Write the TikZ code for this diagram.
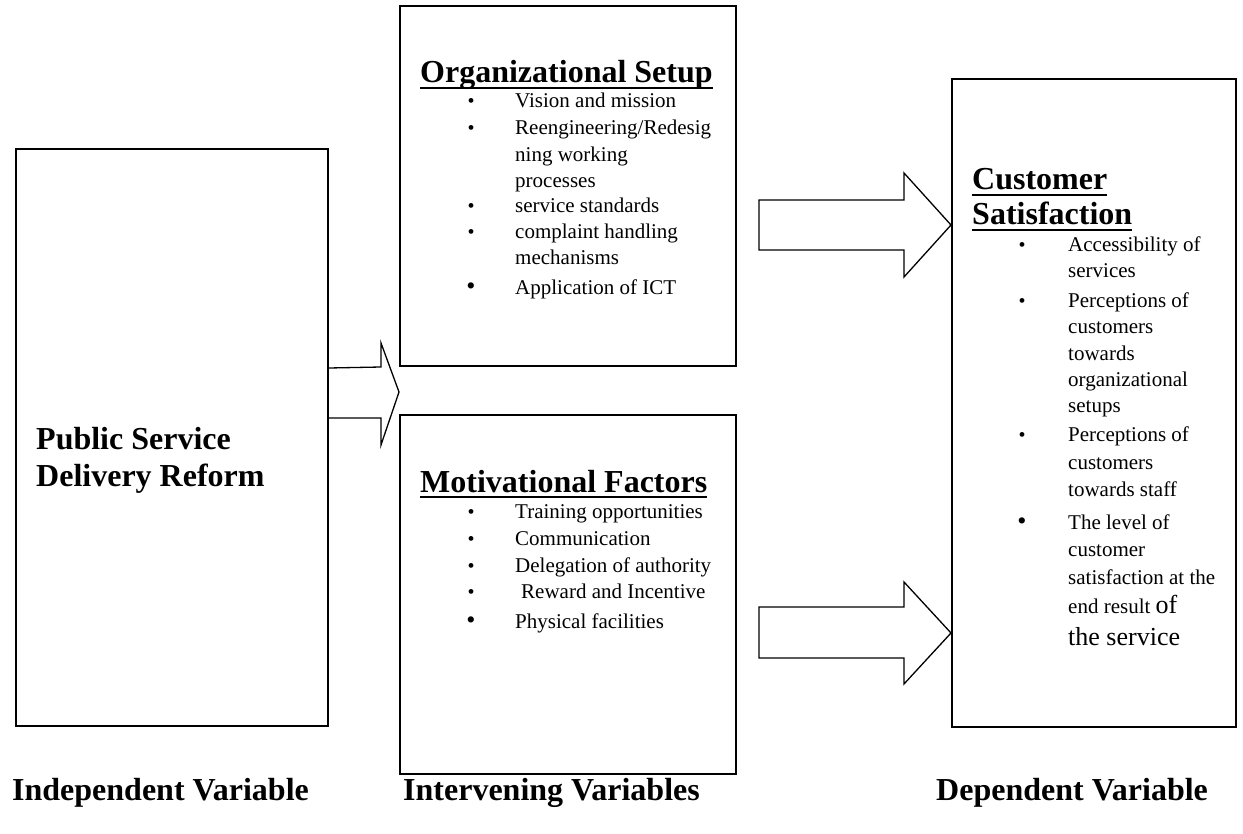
\documentclass[tikz,border=0pt]{standalone}
\usepackage{fontspec}
\setmainfont{Liberation Serif}
\usetikzlibrary{calc}
\tikzset{
  box/.style={draw, line width=2pt, inner sep=0pt, anchor=north west},
  hd/.style={font=\fontsize{32}{36}\selectfont\bfseries, inner sep=0pt, anchor=base west},
  itm/.style={font=\fontsize{21}{27}\selectfont, inner sep=0pt, anchor=base west},
  bul/.style={font=\fontsize{20}{20}\selectfont, inner sep=0pt, anchor=base},
  bigbul/.style={font=\fontsize{26}{26}\selectfont, inner sep=0pt, anchor=base},
  lbl/.style={font=\fontsize{32}{36}\selectfont\bfseries, inner sep=0pt, anchor=base west},
  barrow/.style={draw, line width=1.3pt, fill=white, line join=miter},
  uline/.style={line width=2.5pt},
}
\begin{document}
\begin{tikzpicture}[x=1pt,y=-1pt]
\useasboundingbox (0,0) rectangle (1243,834);
\fill[white] (0,0) rectangle (1243,834);

% boxes
\node[box, minimum width=312pt, minimum height=577pt] (ind) at (15,148) {};
\node[box, minimum width=336pt, minimum height=360pt] (org) at (399,5) {};
\node[box, minimum width=336pt, minimum height=359pt] (mot) at (399,414) {};
\node[box, minimum width=284pt, minimum height=648pt] (cus) at (951,78) {};

% left box text
\node[hd] (ps1) at (36,449) {Public Service};
\node[hd] (ps2) at (36,486) {Delivery Reform};

% arrow 1 (independent -> intervening)
\coordinate (a1s) at (ind.east |- 0,393);
\coordinate (a1t) at (399,392);
\draw[barrow] ($(a1s)+(0,-25)$) -- ($(a1t)+(-18,-25)$) -- ($(a1t)+(-18,-49)$) -- (a1t)
  -- ($(a1t)+(-18,53)$) -- ($(a1t)+(-18,26)$) -- ($(a1s)+(0,25)$);

% arrow 2 (organizational -> customer)
\coordinate (a2s) at (759,225);
\coordinate (a2t) at (cus.west |- 0,225);
\draw[barrow] ($(a2s)+(0,-25)$) -- ($(a2t)+(-47,-25)$) -- ($(a2t)+(-47,-52)$) -- (a2t)
  -- ($(a2t)+(-47,52)$) -- ($(a2t)+(-47,25)$) -- ($(a2s)+(0,25)$) -- cycle;

% arrow 3 (motivational -> customer)
\coordinate (a3s) at (759,633);
\coordinate (a3t) at (cus.west |- 0,633);
\draw[barrow] ($(a3s)+(0,-26)$) -- ($(a3t)+(-47,-26)$) -- ($(a3t)+(-47,-51)$) -- (a3t)
  -- ($(a3t)+(-47,51)$) -- ($(a3t)+(-47,25)$) -- ($(a3s)+(0,25)$) -- cycle;

% organizational setup
\node[hd] (oh) at (420,83) {Organizational Setup};
\draw[uline] ([yshift=-5pt]oh.base west) -- ([yshift=-5pt]oh.base east);
\node[bul] (ob1) at (471,108) {•};
\node[itm] (o1) at (515,108) {Vision and mission};
\node[bul] (ob2) at (471,135) {•};
\node[itm] (o2) at (515,135) {Reengineering/Redesig};
\node[itm] (o3) at (515,162) {ning working};
\node[itm] (o4) at (515,188) {processes};
\node[bul] (ob3) at (471,213) {•};
\node[itm] (o5) at (515,213) {service standards};
\node[bul] (ob4) at (471,239) {•};
\node[itm] (o6) at (515,239) {complaint handling};
\node[itm] (o7) at (515,265) {mechanisms};
\node[bigbul] (ob5) at (471,295) {•};
\node[itm] (o8) at (515,295) {Application of ICT};

% motivational factors
\node[hd] (mh) at (420,492) {Motivational Factors};
\draw[uline] ([yshift=-5pt]mh.base west) -- ([yshift=-5pt]mh.base east);
\node[bul] (mb1) at (471,518) {•};
\node[itm] (m1) at (515,518) {Training opportunities};
\node[bul] (mb2) at (471,545) {•};
\node[itm] (m2) at (515,545) {Communication};
\node[bul] (mb3) at (471,572) {•};
\node[itm] (m3) at (515,572) {Delegation of authority};
\node[bul] (mb4) at (471,598) {•};
\node[itm] (m4) at (521,598) {Reward and Incentive};
\node[bigbul] (mb5) at (471,628) {•};
\node[itm] (m5) at (515,628) {Physical facilities};

% customer satisfaction
\node[hd] (ch1) at (972,190) {Customer};
\draw[uline] ([yshift=-5pt]ch1.base west) -- ([yshift=-5pt]ch1.base east);
\node[hd] (ch2) at (972,225) {Satisfaction};
\draw[uline] ([yshift=-5pt]ch2.base west) -- ([yshift=-5pt]ch2.base east);
\node[bul] (cb1) at (1022,252) {•};
\node[itm] (c1) at (1068,252) {Accessibility of};
\node[itm] (c2) at (1068,278) {services};
\node[bul] (cb2) at (1022,308) {•};
\node[itm] (c3) at (1068,308) {Perceptions of};
\node[itm] (c4) at (1068,334) {customers};
\node[itm] (c5) at (1068,361) {towards};
\node[itm] (c6) at (1068,387) {organizational};
\node[itm] (c7) at (1068,413) {setups};
\node[bul] (cb3) at (1022,442) {•};
\node[itm] (c8) at (1068,442) {Perceptions of};
\node[itm] (c9) at (1068,469) {customers};
\node[itm] (c10) at (1068,496) {towards staff};
\node[bigbul] (cb4) at (1022,529) {•};
\node[itm] (c11) at (1068,529) {The level of};
\node[itm] (c12) at (1068,556) {customer};
\node[itm] (c13) at (1068,584) {satisfaction at the};
\node[itm] (c14) at (1068,613) {end result {\fontsize{26}{30}\selectfont of}};
\node[itm, font=\fontsize{26}{30}\selectfont] (c15) at (1068,645) {the service};

% bottom labels
\node[lbl] (l1) at (12,800) {Independent Variable};
\node[lbl] (l2) at (403,800) {Intervening Variables};
\node[lbl] (l3) at (936,800) {Dependent Variable};
\end{tikzpicture}
\end{document}
